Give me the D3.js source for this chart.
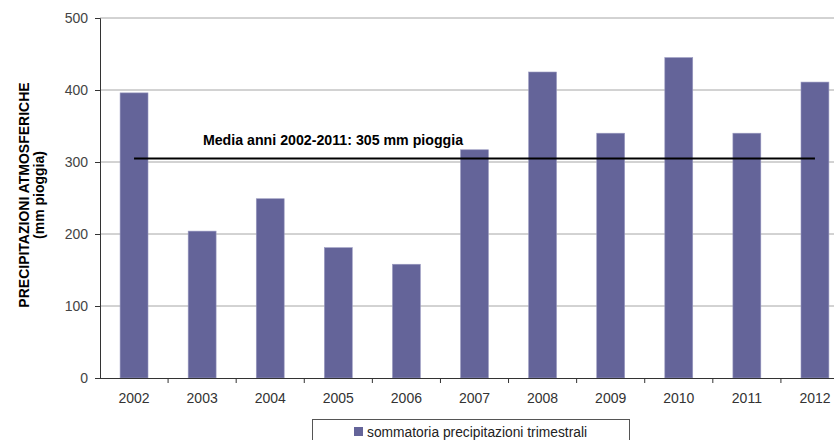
<!DOCTYPE html>
<html><head><meta charset="utf-8">
<script src="https://cdn.jsdelivr.net/npm/d3@7"></script>
<style>body{margin:0;background:#fff;}svg{display:block;font-family:"Liberation Sans",Arial,sans-serif;}</style>
</head><body>
<svg id="c" width="834" height="440"></svg>
<script>
const years = ["2002","2003","2004","2005","2006","2007","2008","2009","2010","2011","2012"];
const values = [396, 204, 249, 181, 158, 317, 425, 340, 445, 340, 411];
const yTicks = [0, 100, 200, 300, 400, 500];
const meanValue = 305;
const meanLabel = "Media anni 2002-2011: 305 mm pioggia";
const seriesName = "sommatoria precipitazioni trimestrali";
const yTitle = ["PRECIPITAZIONI ATMOSFERICHE", "(mm pioggia)"];

const svg = d3.select("#c");
const m = {left: 100, top: 18, right: 849, bottom: 378};
const x = d3.scaleBand().domain(years).range([m.left, m.right]).paddingInner(0.59).paddingOuter(0.295);
const xb = d3.scaleBand().domain(years).range([m.left, m.right]);
const y = d3.scaleLinear().domain([0, 500]).range([m.bottom, m.top]);

// gridlines
svg.append("g").selectAll("line").data(yTicks.filter(d => d > 0)).join("line")
  .attr("x1", m.left).attr("x2", m.right)
  .attr("y1", d => y(d)).attr("y2", d => y(d))
  .attr("stroke", "#a6a6a6").attr("stroke-width", 1);

// bars
svg.append("g").selectAll("rect").data(values).join("rect")
  .attr("x", (d, i) => x(years[i]))
  .attr("width", x.bandwidth())
  .attr("y", d => y(d))
  .attr("height", d => y(0) - y(d))
  .attr("fill", "#646499")
  .attr("stroke", "#9a9ac0").attr("stroke-width", 0.6);

// y axis
const ya = svg.append("g").attr("transform", `translate(${m.left},0)`)
  .call(d3.axisLeft(y).tickValues(yTicks).tickSize(5).tickPadding(7));
ya.select(".domain").attr("stroke", "#333");
ya.selectAll(".tick line").attr("stroke", "#333");
ya.selectAll("text").attr("font-size", 14).attr("fill", "#444").attr("font-family", "Liberation Sans, Arial, sans-serif");

// x axis
const xa = svg.append("g").attr("transform", `translate(0,${m.bottom})`)
  .call(d3.axisBottom(xb).tickSize(0).tickPadding(15));
xa.select(".domain").attr("stroke", "#333").attr("d", `M${m.left},0.5H${m.right}`);
xa.selectAll("text").attr("font-size", 14).attr("fill", "#333").attr("font-family", "Liberation Sans, Arial, sans-serif");
svg.append("g").selectAll("line").data(years.slice(1)).join("line")
  .attr("x1", d => xb(d)).attr("x2", d => xb(d))
  .attr("y1", m.bottom).attr("y2", m.bottom + 5)
  .attr("stroke", "#333");

// mean line
svg.append("line")
  .attr("x1", xb(years[0]) + xb.bandwidth() / 2)
  .attr("x2", xb(years[years.length - 1]) + xb.bandwidth() / 2)
  .attr("y1", y(meanValue)).attr("y2", y(meanValue))
  .attr("stroke", "#000").attr("stroke-width", 2);
svg.append("text").attr("x", 333).attr("y", y(meanValue) - 13)
  .attr("text-anchor", "middle").attr("font-size", 14.2).attr("font-weight", "bold")
  .text(meanLabel);

// y title
const yt = svg.append("text").attr("transform", `translate(0,195) rotate(-90)`)
  .attr("text-anchor", "middle").attr("font-size", 14).attr("font-weight", "bold");
yt.append("tspan").attr("x", 0).attr("y", 29).text(yTitle[0]);
yt.append("tspan").attr("x", 0).attr("y", 44).text(yTitle[1]);

// legend
svg.append("rect").attr("x", 312.5).attr("y", 419.5).attr("width", 317).attr("height", 30)
  .attr("fill", "#fff").attr("stroke", "#555");
svg.append("rect").attr("x", 354).attr("y", 427).attr("width", 9).attr("height", 9).attr("fill", "#646499");
svg.append("text").attr("x", 367).attr("y", 437).attr("font-size", 13.8).attr("fill", "#222").text(seriesName);
</script>
</body></html>
